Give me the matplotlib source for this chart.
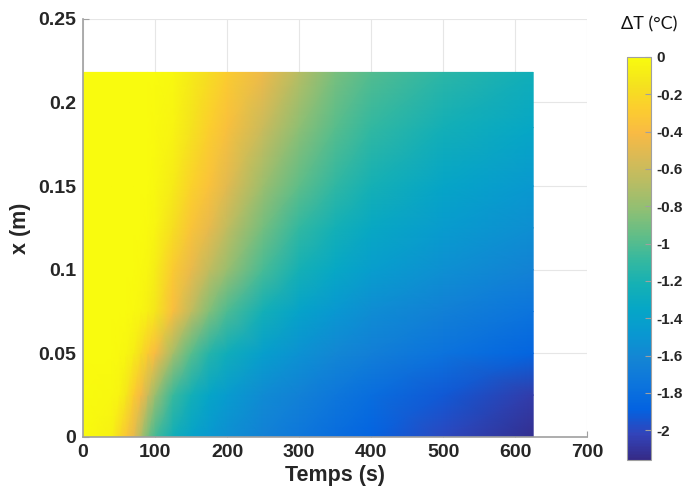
import numpy as np
import matplotlib
matplotlib.use("Agg")
import matplotlib.pyplot as plt
from matplotlib.colors import LinearSegmentedColormap

# DATOS ---------------------------------------------------------------
temps = [0, 40, 50, 60, 70, 80, 90, 100, 125, 150, 175, 200, 250, 300, 350, 400, 500, 625]
positions = [0, 0.025, 0.05, 0.075, 0.1, 0.125, 0.15, 0.185, 0.218]

dT_x000 = [0, -0.06, -0.2, -0.33, -0.48, -0.7, -0.9, -1.04, -1.25, -1.38, -1.47, -1.55, -1.65, -1.73, -1.81, -1.88, -2.0, -2.13]
dT_x025 = [0, -0.02, -0.05, -0.13, -0.28, -0.42, -0.6, -0.78, -1.08, -1.24, -1.36, -1.45, -1.57, -1.65, -1.73, -1.8, -1.93, -2.06]
dT_x050 = [0, 0, -0.01, -0.03, -0.08, -0.18, -0.3, -0.4, -0.74, -0.98, -1.15, -1.26, -1.42, -1.52, -1.6, -1.67, -1.77, -1.87]
dT_x075 = [0, 0, 0, 0, -0.01, -0.03, -0.07, -0.13, -0.38, -0.64, -0.86, -1.02, -1.24, -1.38, -1.48, -1.56, -1.66, -1.76]
dT_x100 = [0, 0, 0, 0, 0, -0.01, -0.03, -0.09, -0.3, -0.47, -0.64, -0.78, -1.03, -1.22, -1.34, -1.43, -1.54, -1.64]
dT_x125 = [0, 0, 0, 0, 0, 0, -0.01, -0.04, -0.17, -0.34, -0.48, -0.64, -0.9, -1.1, -1.23, -1.33, -1.45, -1.55]
dT_x150 = [0, 0, 0, 0, 0, 0, 0, -0.02, -0.1, -0.25, -0.36, -0.5, -0.77, -0.97, -1.11, -1.22, -1.36, -1.47]
dT_x185 = [0, 0, 0, 0, 0, 0, 0, -0.01, -0.05, -0.15, -0.27, -0.37, -0.6, -0.82, -0.98, -1.1, -1.24, -1.35]
dT_x218 = [0, 0, 0, 0, 0, 0, 0, 0, -0.02, -0.1, -0.18, -0.28, -0.45, -0.68, -0.88, -1.0, -1.13, -1.25]

xticks = [0, 100, 200, 300, 400, 500, 600, 700]
yticks = [0, 0.05, 0.1, 0.15, 0.2, 0.25]
ylabels = ['0', '0.05', '0.1', '0.15', '0.2', '0.25']
cticks = [0, -0.2, -0.4, -0.6, -0.8, -1, -1.2, -1.4, -1.6, -1.8, -2]
clabels = ['0', '-0.2', '-0.4', '-0.6', '-0.8', '-1', '-1.2', '-1.4', '-1.6', '-1.8', '-2']

# parula (MATLAB), submuestreado
parula_pts = [
    (0.2081, 0.1663, 0.5292), (0.1959, 0.2645, 0.7279), (0.0117, 0.3875, 0.8820),
    (0.0498, 0.4586, 0.8641), (0.0793, 0.5200, 0.8312), (0.0343, 0.5966, 0.8199),
    (0.0228, 0.6535, 0.7768), (0.0843, 0.6928, 0.7062), (0.2178, 0.7250, 0.6193),
    (0.3953, 0.7459, 0.5244), (0.5709, 0.7485, 0.4494), (0.7184, 0.7411, 0.3905),
    (0.8507, 0.7299, 0.3360), (0.9739, 0.7314, 0.2666), (0.9880, 0.8066, 0.1794),
    (0.9589, 0.8949, 0.1132), (0.9763, 0.9831, 0.0538),
]
parula = LinearSegmentedColormap.from_list("parula", parula_pts, N=256)

# GRAFICO -------------------------------------------------------------
plt.rcParams['font.family'] = ['Liberation Sans', 'DejaVu Sans']
txt = '#262626'

fig = plt.figure(figsize=(6.86, 4.97), dpi=100)
ax = fig.add_axes([0.121, 0.121, 0.735, 0.841])
cax = fig.add_axes([0.914, 0.0744, 0.035, 0.811])

Z = np.array([dT_x000, dT_x025, dT_x050, dT_x075, dT_x100, dT_x125, dT_x150, dT_x185, dT_x218])
T, X = np.meshgrid(temps, positions)
mesh = ax.pcolormesh(T, X, Z, cmap=parula, vmin=-2.16, vmax=0, shading='gouraud', zorder=2)

ax.set_xlim(0, 700)
ax.set_ylim(0, 0.25)
ax.set_xticks(xticks)
ax.set_yticks(yticks)
ax.set_xticklabels([str(v) for v in xticks])
ax.set_yticklabels(ylabels)
ax.grid(True, color='#e6e6e6', linewidth=0.8, zorder=0)
ax.set_axisbelow(True)
for s in ['top', 'right']:
    ax.spines[s].set_visible(False)
for s in ['left', 'bottom']:
    ax.spines[s].set_color('#a0a0a0')
    ax.spines[s].set_linewidth(1.2)
ax.tick_params(direction='in', length=4, color='#a0a0a0', labelsize=14, labelcolor=txt, pad=5)
for lab in ax.get_xticklabels() + ax.get_yticklabels():
    lab.set_fontweight('bold')
ax.set_xlabel('Temps (s)', fontsize=15.5, fontweight='bold', color=txt, labelpad=3)
ax.set_ylabel('x (m)', fontsize=15.5, fontweight='bold', color=txt, labelpad=5)

cb = fig.colorbar(mesh, cax=cax, ticks=cticks)
cb.outline.set_edgecolor('#a0a0a0')
cb.ax.set_yticklabels(clabels)
cb.ax.tick_params(direction='in', length=4, color='#a0a0a0', labelsize=11, labelcolor=txt, pad=4)
for lab in cb.ax.get_yticklabels():
    lab.set_fontweight('bold')
fig.text(0.947, 0.95, 'ΔT (°C)', ha='center', va='center', fontsize=13,
         family=['Lato', 'DejaVu Sans'], color='#111111')

fig.savefig('out.png', dpi=100)
